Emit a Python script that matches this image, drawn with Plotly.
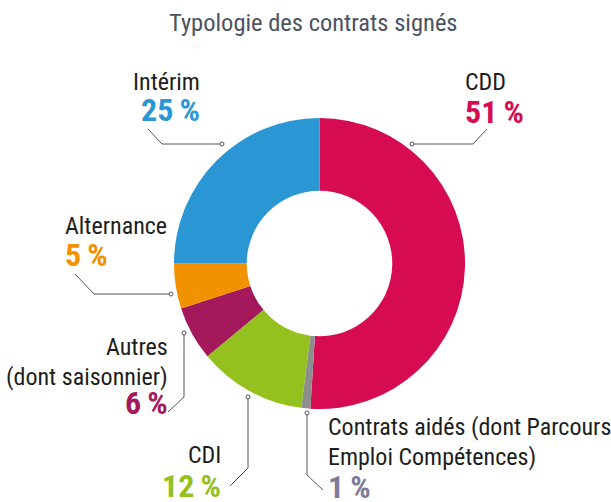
import plotly.graph_objects as go

# ---- data ----
categories = ["CDD", "Contrats aidés (dont Parcours Emploi Compétences)", "CDI",
              "Autres (dont saisonnier)", "Alternance", "Intérim"]
values = [51, 1, 12, 6, 5, 25]
label_lines = [["CDD"], ["Contrats aidés (dont Parcours", "Emploi Compétences)"], ["CDI"],
               ["Autres", "(dont saisonnier)"], ["Alternance"], ["Intérim"]]
slice_colors = ["#D60B52", "#8E8E8E", "#95C11F", "#A3195B", "#F39200", "#2A97D4"]
pct_colors = ["#D60B52", "#7D7A9C", "#95C11F", "#A3195B", "#F39200", "#2A97D4"]
title_text = "Typologie des contrats signés"

# ---- layout constants (pixels) ----
W, H = 611, 502
CX, CY, R = 319.5, 263.5, 145.5
FONT = "Roboto Condensed, Roboto, sans-serif"

# per-label placement: (xanchor, x, [y of each name line], y of pct)
label_pos = [
    ("left", 463, [82], 112),
    ("left", 326, [427, 457], 487),
    ("right", 223, [455], 486),
    ("right", 170, [347, 377], 403),
    ("left", 63, [226], 255),
    ("right", 202, [82], 110),
]
leaders = [
    [(412, 144), (473, 144), (487, 129)],
    [(307, 413), (307, 475), (323, 490)],
    [(248, 397), (248, 468), (230, 486)],
    [(184, 333), (184, 397), (168, 412)],
    [(171, 294), (94, 294), (75, 274)],
    [(222, 144), (162, 144), (148, 129)],
]


def px(x):
    return x / W


def py(y):
    return 1 - y / H


fig = go.Figure(go.Pie(
    labels=categories, values=values, sort=False, direction="clockwise",
    rotation=0, hole=0.5, textinfo="none", hoverinfo="label+percent",
    marker=dict(colors=slice_colors, line=dict(width=0)),
    domain=dict(x=[px(CX - R), px(CX + R)], y=[py(CY + R), py(CY - R)]),
    showlegend=False,
))

annotations = [dict(text=title_text, x=px(313), y=py(23), xref="paper", yref="paper",
                    showarrow=False, xanchor="center", yanchor="middle",
                    font=dict(family=FONT, size=24.5, color="#4B5262"))]
shapes = []
for i, (lines, v) in enumerate(zip(label_lines, values)):
    anchor, x, ys, ypct = label_pos[i]
    for line, y in zip(lines, ys):
        annotations.append(dict(text=line, x=px(x), y=py(y), xref="paper", yref="paper",
                                showarrow=False, xanchor=anchor, yanchor="middle",
                                font=dict(family=FONT, size=24, color="#1D1D1B")))
    annotations.append(dict(text=f"<b>{v}\u2009%</b>", x=px(x), y=py(ypct), xref="paper",
                            yref="paper", showarrow=False, xanchor=anchor, yanchor="middle",
                            font=dict(family=FONT, size=32, color=pct_colors[i])))
    pts = leaders[i]
    path = "M " + " L ".join(f"{px(a)},{py(b)}" for a, b in pts)
    shapes.append(dict(type="path", path=path, xref="paper", yref="paper",
                       line=dict(color="#555555", width=1)))
    shapes.append(dict(type="circle", xref="paper", yref="paper", xsizemode="pixel",
                       ysizemode="pixel", xanchor=px(pts[0][0]), yanchor=py(pts[0][1]),
                       x0=-2, x1=2, y0=-2, y1=2, line=dict(color="#555555", width=1),
                       fillcolor="white"))

fig.update_layout(width=W, height=H, autosize=False,
                  margin=dict(l=0, r=0, t=0, b=0),
                  paper_bgcolor="white", plot_bgcolor="white",
                  annotations=annotations, shapes=shapes)
fig.write_html("out.html", config={"displayModeBar": False},
               post_script="document.body.style.margin='0';")
